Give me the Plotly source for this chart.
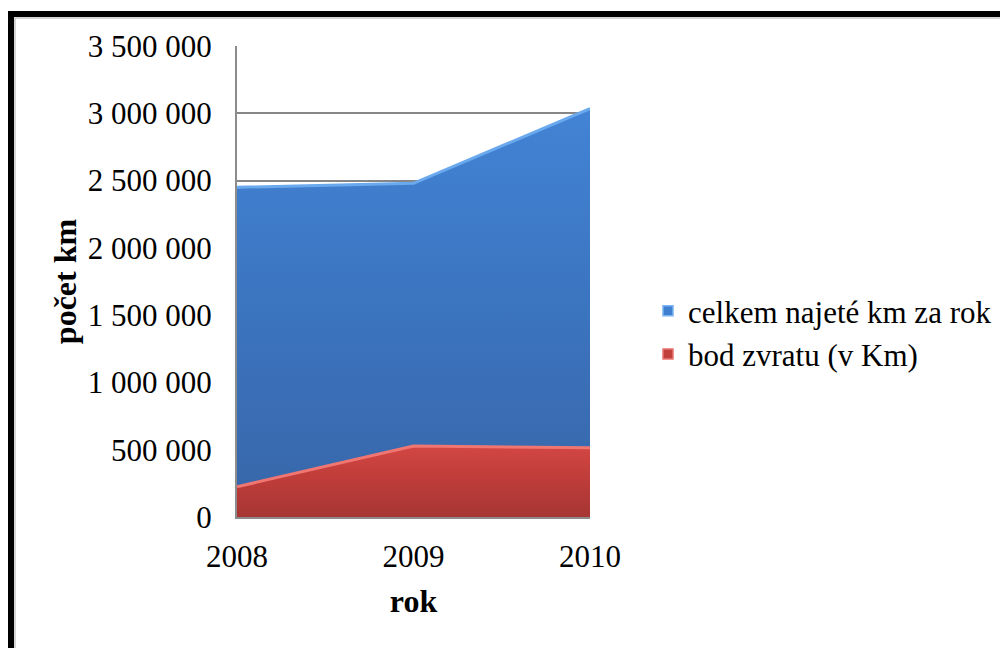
import plotly.graph_objects as go

# Yearly mileage data
years = ["2008", "2009", "2010"]
total_km = [2450000, 2480000, 3035000]      # celkem najeté km za rok
breakeven_km = [225000, 527000, 515000]     # bod zvratu (v Km)
series_names = ["celkem najeté km za rok", "bod zvratu (v Km)"]
y_ticks = [0, 500000, 1000000, 1500000, 2000000, 2500000, 3000000, 3500000]
y_tick_labels = [f"{v:,}".replace(",", " ") for v in y_ticks]

FONT = "Liberation Serif"

fig = go.Figure()

fig.add_trace(go.Scatter(
    x=years, y=total_km, name=series_names[0], showlegend=False,
    mode="lines", line=dict(color="#6aa9ee", width=3),
    fill="tozeroy",
    fillgradient=dict(type="vertical", start=0, stop=3100000,
                      colorscale=[[0, "#3866a8"], [0.5, "#3b74bf"], [1, "#4384d6"]]),
))
fig.add_trace(go.Scatter(
    x=years, y=breakeven_km, name=series_names[1], showlegend=False,
    mode="lines", line=dict(color="#f07672", width=3),
    fill="tozeroy",
    fillgradient=dict(type="vertical", start=0, stop=540000,
                      colorscale=[[0, "#a63634"], [0.5, "#bd3c39"], [1, "#d44743"]]),
))

# Square legend keys
for name, col, edge in [(series_names[0], "#3f7fd0", "#7ab4f2"),
                        (series_names[1], "#c0403c", "#e87470")]:
    fig.add_trace(go.Scatter(
        x=[None], y=[None], name=name, mode="markers",
        marker=dict(symbol="square", size=10, color=col, line=dict(color=edge, width=1.5)),
    ))

# Plot area: x 237..590 px, y 46..517 px
L, R, T, B = 237, 590, 46, 517
W, H = 1000, 648

def px_x(p):
    return (p - L) / (R - L)

def px_y(p):
    return (B - p) / (B - T)

# Outer frame (top and left edges of the chart border)
fig.add_shape(type="path", xref="paper", yref="paper",
              path=f"M {px_x(11)} {px_y(660)} L {px_x(11)} {px_y(14)} L {px_x(1010)} {px_y(14)}",
              line=dict(color="black", width=6))
fig.add_shape(type="path", xref="paper", yref="paper",
              path=f"M {px_x(15)} {px_y(660)} L {px_x(15)} {px_y(18)} L {px_x(1010)} {px_y(18)}",
              line=dict(color="#c8c8c8", width=1.5))

fig.update_layout(
    width=W, height=H,
    margin=dict(l=L, r=W - R, t=T, b=H - B, autoexpand=False),
    paper_bgcolor="white", plot_bgcolor="white",
    font=dict(family=FONT, size=31, color="black"),
    showlegend=True,
    legend=dict(xref="container", yref="container", x=648 / W, y=1 - 284 / H,
                xanchor="left", yanchor="top",
                font=dict(family=FONT, size=31, color="black"), bgcolor="rgba(0,0,0,0)",
                tracegroupgap=0, itemwidth=30),
    xaxis=dict(type="category", range=[0, 2], showgrid=False,
               showline=True, linecolor="#8c8c8c", linewidth=2,
               ticks="", ticklabelstandoff=11,
               title=dict(text="<b>rok</b>", font=dict(family=FONT, size=32), standoff=16),
               tickfont=dict(family=FONT, size=31, color="black")),
    yaxis=dict(range=[0, 3500000], tickvals=y_ticks, ticktext=y_tick_labels,
               showgrid=True, gridcolor="#868686", gridwidth=2,
               showline=True, linecolor="#8c8c8c", linewidth=2,
               zeroline=False, ticks="", ticklabelstandoff=17,
               title=dict(text="<b>počet km</b>", font=dict(family=FONT, size=32), standoff=2),
               tickfont=dict(family=FONT, size=31, color="black")),
)

fig.write_html("out.html")
